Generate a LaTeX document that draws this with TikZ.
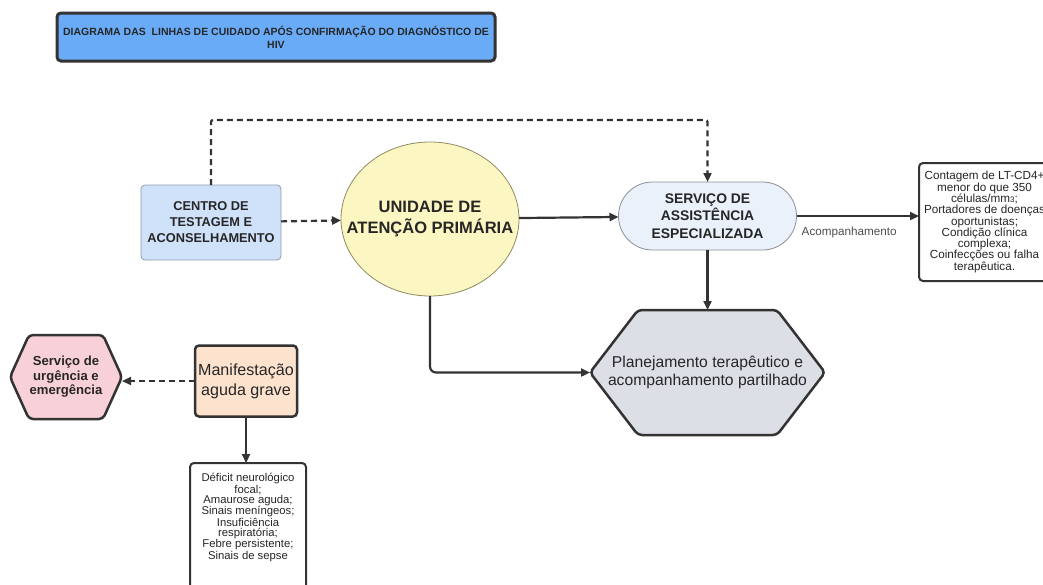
\documentclass[tikz,border=0pt]{standalone}
\usepackage{fontspec}
\setmainfont{Liberation Sans}
\usepackage{tikz}
\usetikzlibrary{arrows.meta}
\usetikzlibrary{backgrounds}
\usetikzlibrary{calc}
\usetikzlibrary{shapes.geometric}

\definecolor{linegray}{HTML}{333333}
\definecolor{textdark}{HTML}{262626}
\definecolor{labelgray}{HTML}{4D4D4D}
\definecolor{titleblue}{HTML}{6AABF8}
\definecolor{ctablue}{HTML}{CFE2FA}
\definecolor{ctaedge}{HTML}{8C9BB0}
\definecolor{uapyellow}{HTML}{FCF7C2}
\definecolor{uapedge}{HTML}{8F8A5E}
\definecolor{saeblue}{HTML}{EAF1FB}
\definecolor{saeedge}{HTML}{8A8F99}
\definecolor{plangray}{HTML}{DCDFE6}
\definecolor{manifpeach}{HTML}{FDE3CE}
\definecolor{urgpink}{HTML}{F8D0D8}

\begin{document}
\begin{tikzpicture}[
	x=1pt, y=-1pt,
	every node/.style={align=center, text=textdark, outer sep=0pt, inner sep=2pt},
	heavy/.style={draw=linegray, line width=2.5pt, rounded corners=4pt},
	light/.style={draw=#1, line width=0.8pt},
	conn/.style={draw=linegray, line width=2.2pt, -{Triangle[length=9pt, width=8pt]}},
	dashconn/.style={conn, dash pattern=on 6pt off 4pt}
	]
	\useasboundingbox (0,0) rectangle (1043,584);

	\node[heavy, fill=titleblue, line width=3pt, minimum width=438, minimum height=48,
		font=\bfseries\fontsize{10.5}{13}\selectfont] (title) at (276,37)
			{DIAGRAMA DAS\ \ LINHAS DE CUIDADO APÓS CONFIRMAÇÃO DO DIAGNÓSTICO DE\\HIV};

	\node[light=ctaedge, fill=ctablue, rounded corners=4pt, minimum width=140, minimum height=75,
		font=\bfseries\fontsize{12.8}{16}\selectfont] (cta) at (211,222.5)
			{CENTRO DE\\TESTAGEM E\\ACONSELHAMENTO};
	\node[ellipse, light=uapedge, fill=uapyellow, minimum width=178, minimum height=154]
		(uap) at (430,219) {};
	\node[font=\bfseries\fontsize{16.5}{21}\selectfont] (uaptext) at (uap)
			{UNIDADE DE\\ATENÇÃO PRIMÁRIA};
	\node[light=saeedge, fill=saeblue, rounded corners=34pt, minimum width=178, minimum height=68,
		font=\bfseries\fontsize{13.9}{17.3}\selectfont] (sae) at (707.5,216)
			{SERVIÇO DE\\ASSISTÊNCIA\\ESPECIALIZADA};
	\node[heavy, line width=2pt, fill=white, minimum width=131, minimum height=118,
		font=\fontsize{11.7}{11.3}\selectfont] (crit) at (984.5,222)
			{Contagem de LT-CD4+\\menor do que 350\\células/mm{\fontsize{8}{8}\selectfont 3};\\Portadores de doenças\\oportunistas;\\Condição clínica\\complexa;\\Coinfecções ou falha\\terapêutica.};

	\node[minimum width=235, minimum height=125,
		font=\fontsize{15.7}{18.5}\selectfont] (plan) at (707.5,372.5)
			{Planejamento terapêutico e\\acompanhamento partilhado};
	\node[heavy, fill=manifpeach, minimum width=102, minimum height=71,
		font=\fontsize{16.1}{20}\selectfont] (manif) at (246,381)
			{Manifestação\\aguda grave};
	\node[minimum width=112, minimum height=84,
		font=\bfseries\fontsize{13.1}{14.5}\selectfont] (urg) at (66,377)
			{Serviço de\\urgência e\\emergência};
	\node[heavy, line width=2pt, fill=white, minimum width=116, minimum height=140, anchor=north]
		(defbox) at (248,463) {};
	\node[font=\fontsize{11.3}{9.9}\selectfont] (deftext) at (248,517.5)
			{Déficit neurológico\\focal;\\Amaurose aguda;\\Sinais meníngeos;\\Insuficiência\\respiratória;\\Febre persistente;\\Sinais de sepse};

	% hexagons
	\begin{scope}[on background layer]
		\draw[heavy, fill=plangray]
			(plan.west) -- ($(plan.north west)+(48,0)$) -- ($(plan.north east)+(-48,0)$)
			-- (plan.east) -- ($(plan.south east)+(-48,0)$) -- ($(plan.south west)+(48,0)$) -- cycle;
		\draw[heavy, fill=urgpink]
			(urg.west) -- ($(urg.north west)+(19,0)$) -- ($(urg.north east)+(-19,0)$)
			-- (urg.east) -- ($(urg.south east)+(-19,0)$) -- ($(urg.south west)+(19,0)$) -- cycle;
	\end{scope}

	\coordinate (bend) at (430,120);
	\draw[dashconn] (cta) -- (uap);
	\draw[dashconn, rounded corners=2pt] (cta.north) |- (bend) -| (sae.north);
	\draw[conn] (uap) -- (sae);
	\draw[conn] (sae.east) -- (sae.east -| crit.west)
		node[pos=0.43, yshift=-16pt, text=labelgray, font=\fontsize{11.7}{14}\selectfont] (acomp)
			{Acompanhamento};
	\draw[conn] (sae.south) -- (plan.north);
	\draw[conn, rounded corners=6pt] (uap.south) |- (plan.west);
	\draw[dashconn] (manif.west) -- (manif.west -| urg.east);
	\draw[conn] (manif.south) -- (manif.south |- defbox.north);
\end{tikzpicture}
\end{document}
